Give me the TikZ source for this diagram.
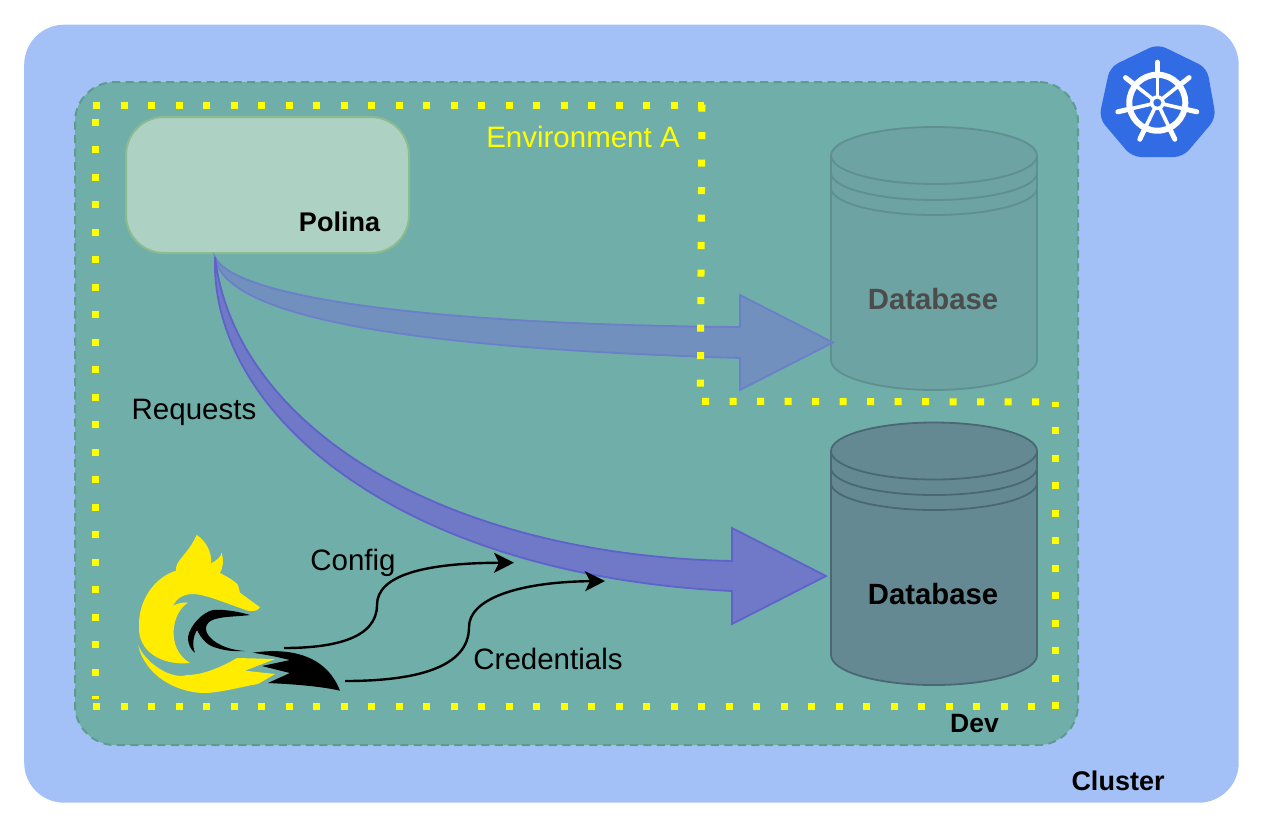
\documentclass[tikz,border=0pt]{standalone}
\usepackage{fontspec}
\setmainfont{Liberation Sans}
\usetikzlibrary{arrows.meta}
\definecolor{clusterblue}{HTML}{A3C1F6}
\definecolor{devgreen}{HTML}{70AFA9}
\definecolor{devedge}{HTML}{5F9A8E}
\definecolor{yel}{HTML}{FFFF00}
\definecolor{foxy}{HTML}{FFEC00}
\definecolor{kblue}{HTML}{326CE5}
\definecolor{fadefill}{HTML}{6DA3A2}
\definecolor{fadeline}{HTML}{5F8F90}
\definecolor{strongfill}{HTML}{658993}
\definecolor{strongline}{HTML}{4A6873}
\definecolor{polfill}{HTML}{ADD1C3}
\definecolor{polline}{HTML}{8DBB8F}
\definecolor{afill}{HTML}{7190BE}
\definecolor{aline}{HTML}{6B80C8}
\definecolor{bfill}{HTML}{7079C7}
\definecolor{bline}{HTML}{5F62C9}
\tikzset{
  dots/.style={draw=yel,line width=7pt,dash pattern=on 7pt off 20.5pt},
  dbfaded/.style={draw=fadeline,fill=fadefill,line width=1.8pt},
  dbstrong/.style={draw=strongline,fill=strongfill,line width=1.8pt},
  lbl/.style={inner sep=0pt,font=\fontsize{29.5}{30}\selectfont},
  blbl/.style={inner sep=0pt,font=\fontsize{27}{27}\selectfont\bfseries},
  dblbl/.style={inner sep=0pt,font=\fontsize{29.3}{30}\selectfont\bfseries},
  thinarrow/.style={draw=black,line width=2.4pt,-{Stealth[length=20pt,width=20pt,inset=5pt]}}
}
\begin{document}
\begin{tikzpicture}[x=1pt,y=-1pt]
\useasboundingbox (0,0) rectangle (1265,831);
\fill[white] (0,0) rectangle (1265,831);
% cluster
\node[fill=clusterblue,rounded corners=40pt,minimum width=1214.5pt,minimum height=778pt,inner sep=0pt,anchor=north west] (cluster) at (24,24.5) {};
% dev
\node[fill=devgreen,draw=devedge,line width=2pt,dash pattern=on 8pt off 5.5pt,rounded corners=40pt,minimum width=1003pt,minimum height=663pt,inner sep=0pt,anchor=north west] (dev) at (74,81) {};
% polina
\node[fill=polfill,draw=polline,line width=2pt,rounded corners=38pt,minimum width=283pt,minimum height=136pt,inner sep=0pt,anchor=north west] (polina) at (125,116) {};
\node[blbl] (polinat) at (339.5,221.5) {Polina};
\node[lbl,text=yel] (enva) at (583,136.5) {Environment A};
% database faded
\draw[dbfaded] (831,157) -- (831,360) arc[start angle=180,end angle=0,x radius=103,y radius=30] -- (1037,157) -- cycle;
\draw[dbfaded] (934,155.5) ellipse[x radius=103,y radius=28.5];
\draw[dbfaded,fill=none] (831,173) arc[start angle=180,end angle=0,x radius=103,y radius=27];
\draw[dbfaded,fill=none] (831,188) arc[start angle=180,end angle=0,x radius=103,y radius=27];
\node[dblbl,text=black!70] (dba) at (933,299) {Database};
% database strong
\draw[dbstrong] (831,452) -- (831,655) arc[start angle=180,end angle=0,x radius=103,y radius=30] -- (1037,452) -- cycle;
\draw[dbstrong] (934,451) ellipse[x radius=103,y radius=28.5];
\draw[dbstrong,fill=none] (831,468) arc[start angle=180,end angle=0,x radius=103,y radius=27];
\draw[dbstrong,fill=none] (831,483) arc[start angle=180,end angle=0,x radius=103,y radius=27];
\node[dblbl,text=black] (dbb) at (933,594) {Database};
% big arrows
\coordinate (src) at (215,257);
\draw[draw=aline,line width=1.8pt,fill=afill,line join=miter]
  (src) .. controls (235,300) and (450,325) .. (740,327) -- (740,295) -- (833,342.5) -- (740,390) -- (740,358)
  .. controls (480,350) and (225,328) .. (src) -- cycle;
\draw[draw=bline,line width=1.8pt,fill=bfill,line join=miter]
  (src) .. controls (235,425) and (440,555) .. (732,561) -- (732,528) -- (826,576) -- (732,624) -- (732,591)
  .. controls (400,575) and (210,415) .. (src) -- cycle;
% environment dots, on top of the arrows
\draw[dots] (93.2,105) -- (704,105);
\draw[dots] (95.7,118.8) -- (95.7,699);
\draw[dots] (702,104.7) -- (700.3,390);
\draw[dots] (702.2,401.3) -- (1040,401.9);
\draw[draw=yel,line width=7pt,dash pattern=on 7pt off 20.5pt,dash phase=2.5pt] (1055.3,402.3) -- (1055.3,709);
\draw[dots] (93.2,706.7) -- (1036,706.7);
% labels
\node[lbl] (req) at (194,412) {Requests};
\node[lbl] (cfg) at (353,563) {Config};
\node[lbl] (cred) at (548,658.5) {Credentials};
\node[blbl,font=\fontsize{26.5}{26}\selectfont\bfseries] (dev2) at (974.5,723) {Dev};
\node[blbl] (clu) at (1118,781) {Cluster};
% fox
\fill[foxy] (196.7,535) .. controls (206,541) and (212,552) .. (211,563.3) .. controls (216,561) and (221,557) .. (221.7,552.7)
 .. controls (224,560) and (223,568) .. (220,573) .. controls (228,577) and (236,582) .. (238,585) -- (240,592.7) -- (260,607.3) .. controls (258,611) and (253,611.5) .. (248,610.7)
 .. controls (225,603) and (205,594) .. (193,594) .. controls (183,594) and (176,599) .. (173,605.7) .. controls (178,603) and (184,602) .. (188,602.7)
 .. controls (172,612) and (165,648) .. (190,663) .. controls (160,666) and (138,650) .. (139,627) .. controls (138,600) and (155,577) .. (176,570.7)
 .. controls (175,560) and (187,556) .. cycle;
\fill[foxy] (138,645) .. controls (145,662) and (170,680) .. (187,675) .. controls (205,675) and (225,665) .. (237,658) -- (275,659) -- (245,670.7) -- (275,674) -- (258,684)
 .. controls (240,687) and (220,693) .. (203,693) .. controls (175,692) and (145,675) .. cycle;
\fill[black] (250,615) .. controls (240,612) and (225,609) .. (213,610) .. controls (203,612) and (190,625) .. (188,637) .. controls (188,645) and (191,650) .. (195,652.7)
 .. controls (192,645) and (193,637) .. (197,630) .. controls (202,640) and (208,646) .. (217,648) .. controls (226,651) and (236,651.5) .. (245,651)
 .. controls (228,650) and (212,643) .. (207,633) .. controls (205,628) and (206,625) .. (208,623) .. controls (214,616) and (235,617) .. cycle;
\fill[black] (253,652.7) .. controls (285,648) and (325,652) .. (340,690.7) .. controls (320,686) and (290,684) .. (268,683) -- (290,673) -- (262,666) -- (290,660) -- (277,657) .. controls (268,655) and (260,654) .. cycle;
\coordinate (c1) at (284,648);
\coordinate (c2) at (345,681);
\coordinate (t1) at (514,562.7);
\coordinate (t2) at (605,581);
\draw[thinarrow] (c1) .. controls (335,648) and (377,638) .. (377,605) .. controls (377,575) and (425,563) .. (t1);
\draw[thinarrow] (c2) .. controls (415,681) and (469,668) .. (469,627) .. controls (469,600) and (515,582) .. (t2);
% kube
\fill[kblue,rounded corners=9pt] (1157.7,44) -- (1207,68) -- (1216,118) -- (1183,157) -- (1132,157) -- (1099,118) -- (1110,67) -- cycle;
\coordinate (hub) at (1157.3,102.7);
\draw[white,line width=6pt] (hub) circle[radius=28];
\foreach \a in {-90,-38.3,13,64.4,115.6,167,218.3}{
  \draw[white,line width=3.6pt,shift={(hub)}] (\a:5) -- (\a:30);
  \draw[white,line width=5pt,line cap=round,shift={(hub)}] (\a:28) -- (\a:40.5);
}
\fill[white] (hub) circle[radius=7.5];
\fill[kblue] (hub) circle[radius=4];
\end{tikzpicture}
\end{document}
